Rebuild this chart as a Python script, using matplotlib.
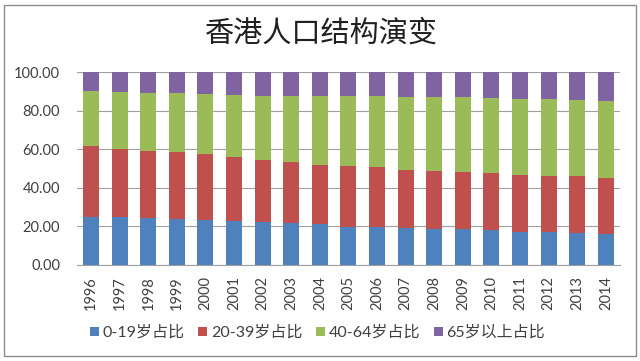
import numpy as np
from matplotlib import pyplot as plt
from matplotlib.patches import Rectangle

plt.rcParams['font.family'] = ['Lato', 'Noto Sans CJK SC', 'DejaVu Sans']

years = [str(y) for y in range(1996, 2015)]
# cumulative tops
top_0_19 = [25.1, 25.1, 24.6, 24.1, 23.2, 22.7, 22.2, 21.7, 21.0, 19.9,
            19.9, 19.4, 18.9, 18.5, 17.9, 17.3, 17.0, 16.5, 16.1]
top_20_39 = [61.5, 60.3, 59.3, 58.4, 57.4, 56.2, 54.2, 53.4, 51.8, 51.1,
             50.6, 49.4, 48.7, 48.2, 47.5, 46.8, 46.3, 45.9, 45.1]
top_40_64 = [90.0, 89.8, 89.1, 89.1, 88.7, 88.4, 87.9, 87.9, 87.9, 87.7,
             87.5, 87.2, 87.0, 87.0, 86.8, 86.3, 86.0, 85.6, 85.1]

age_0_19 = np.array(top_0_19)
age_20_39 = np.array(top_20_39) - np.array(top_0_19)
age_40_64 = np.array(top_40_64) - np.array(top_20_39)
age_65 = 100 - np.array(top_40_64)

labels = ['0-19岁占比', '20-39岁占比', '40-64岁占比', '65岁以上占比']
colors = ['#4F81BD', '#C0504D', '#9BBB59', '#8064A2']

fig = plt.figure(figsize=(6.4, 3.61), dpi=100)
fig.patches.append(Rectangle((0.006, 0.014), 0.988, 0.972, transform=fig.transFigure,
                             fill=False, edgecolor='#8c8c8c', linewidth=1))
ax = fig.add_axes([0.120, 0.266, 0.849, 0.534])

x = np.arange(len(years))
bottom = np.zeros(len(years))
for vals, lab, col in zip([age_0_19, age_20_39, age_40_64, age_65], labels, colors):
    ax.bar(x, vals, 0.56, bottom=bottom, color=col, label=lab, zorder=3)
    bottom = bottom + vals

ax.set_ylim(0, 100)
ax.set_xlim(-0.5, len(years) - 0.5)
ax.set_yticks(range(0, 101, 20))
ax.set_yticklabels(['%.2f' % v for v in range(0, 101, 20)], fontsize=10.5, color='#404040')
ax.set_xticks(x)
ax.set_xticklabels(years, rotation=90, fontsize=10.5, color='#404040')
ax.tick_params(axis='y', length=0, pad=12)
ax.tick_params(axis='x', length=0, pad=8)
ax.yaxis.grid(True, color='#a0a0a0', linewidth=0.8, zorder=0)
for s in ['top', 'right', 'left']:
    ax.spines[s].set_visible(False)
ax.spines['bottom'].set_color('#a0a0a0')

fig.text(0.503, 0.908, '香港人口结构演变', ha='center', va='center', fontsize=21,
         family='Noto Sans CJK SC', color='#202020')

fig.legend(loc='center left', bbox_to_anchor=(0.118, 0.078), ncol=4, frameon=False,
           fontsize=11.5, handlelength=0.55, handleheight=0.55, handletextpad=0.25,
           columnspacing=0.85, labelcolor='#404040')

plt.savefig('out.png', dpi=100)
